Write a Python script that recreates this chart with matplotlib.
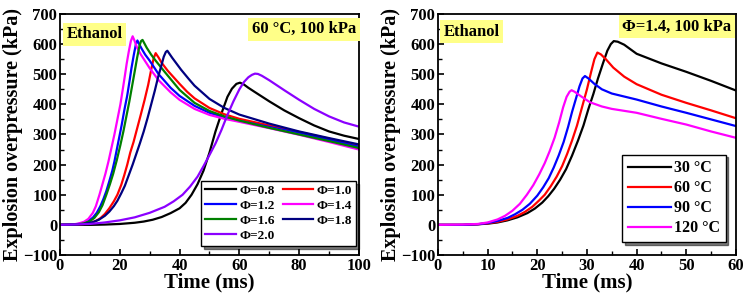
import numpy as np
import matplotlib
matplotlib.use("Agg")
import matplotlib.pyplot as plt
from matplotlib.ticker import MultipleLocator

plt.rcParams.update({
    "font.family": "serif",
    "font.serif": ["Liberation Serif", "DejaVu Serif"],
    "font.weight": "bold",
    "axes.labelweight": "bold",
    "axes.linewidth": 1.3,
    "xtick.direction": "in",
    "ytick.direction": "in",
    "mathtext.default": "bf",
})

# Panel (a): 60 °C, 100 kPa, various equivalence ratios
t_08 = [0, 10, 15, 20, 25, 28, 31, 34, 37, 40, 42, 44, 46, 48, 50, 52, 54, 56, 57.5, 59, 60.2, 61.5, 63, 65, 70, 75, 80, 85, 90, 95, 100]
p_08 = [0, 0, 1, 3, 7, 11, 17, 26, 39, 55, 73, 100, 135, 180, 240, 310, 370, 425, 452, 468, 472, 466, 455, 442, 410, 380, 354, 330, 310, 296, 285]

t_10 = [0, 5, 8, 10, 12, 13.5, 15, 16.5, 18, 19.2, 20.5, 21.5, 22.5, 23.5, 24.6, 25.8, 27, 28.3, 29.5, 30.5, 31.3, 32, 33, 34, 36, 38, 40, 42.5, 45, 50, 55, 60, 70, 80, 90, 100]
p_10 = [0, 1, 3, 6, 13, 22, 36, 55, 78, 100, 133, 165, 200, 240, 275, 320, 365, 415, 465, 515, 552, 570, 555, 538, 512, 490, 468, 442, 420, 388, 367, 352, 330, 308, 286, 263]

t_12 = [0, 4, 6, 8, 9.5, 11, 12.3, 13.5, 14.5, 15.5, 16.5, 17.5, 18.2, 19, 19.8, 20.6, 21.6, 22.5, 23.3, 23.9, 24.7, 25.4, 25.9, 26.5, 27.3, 28.5, 30, 33, 37, 40, 45, 50, 55, 60, 70, 80, 90, 100]
p_12 = [0, 1, 3, 7, 13, 24, 40, 62, 85, 112, 145, 180, 210, 250, 290, 330, 385, 430, 480, 520, 565, 600, 612, 600, 585, 565, 545, 500, 455, 428, 395, 372, 357, 345, 325, 305, 282, 259]

t_14 = [0, 4, 6, 8, 9.5, 11, 12, 13.2, 14.2, 15.2, 16.2, 17.2, 18.2, 19.2, 20.2, 21, 21.7, 22.3, 23, 23.7, 24.3, 24.9, 25.7, 27, 30, 33, 37, 40, 45, 50, 55, 60, 70, 80, 90, 100]
p_14 = [0, 1, 4, 10, 20, 40, 62, 100, 135, 170, 210, 255, 300, 350, 400, 450, 495, 535, 575, 610, 626, 612, 590, 566, 520, 480, 440, 415, 385, 365, 352, 342, 321, 299, 275, 250]

t_16 = [0, 4, 6, 8, 10, 11.5, 13, 14.2, 15.5, 16.7, 17.8, 19, 20.2, 21.2, 22.2, 23.2, 24.1, 25, 25.8, 26.6, 27.1, 27.6, 28.2, 29, 30.5, 32, 35, 40, 45, 50, 55, 60, 70, 80, 90, 100]
p_16 = [0, 1, 2, 5, 12, 23, 42, 65, 100, 135, 170, 215, 265, 310, 360, 410, 460, 510, 555, 595, 610, 614, 603, 588, 565, 545, 508, 448, 405, 378, 360, 346, 322, 300, 278, 255]

t_18 = [0, 5, 8, 11, 13, 15, 16.5, 18, 19.2, 20.5, 21.7, 23, 24.3, 25.5, 26.7, 28, 29.3, 30.5, 31.7, 32.8, 33.8, 34.7, 35.4, 35.9, 36.6, 37.5, 39, 40.5, 43, 45, 50, 55, 60, 70, 80, 90, 100]
p_18 = [0, 1, 3, 9, 17, 30, 44, 62, 80, 105, 130, 165, 200, 235, 270, 310, 355, 400, 445, 490, 525, 558, 574, 578, 568, 555, 535, 515, 485, 462, 418, 388, 366, 336, 310, 288, 267]

t_20 = [0, 10, 15, 20, 25, 30, 35, 38, 41, 43.5, 46, 48, 50, 52, 54, 56, 58, 60, 61.5, 63, 64.2, 65.2, 66.2, 67.5, 70, 75, 80, 85, 90, 95, 100]
p_20 = [0, 3, 8, 15, 25, 40, 60, 78, 100, 127, 160, 195, 232, 270, 315, 365, 410, 450, 474, 490, 498, 502, 501, 495, 480, 447, 415, 385, 360, 340, 326]

# Panel (b): Φ=1.4, 100 kPa, various initial temperatures
t_30 = [0, 5, 8, 10, 12, 14, 16, 18, 19.5, 21, 22.2, 23.4, 24.6, 25.8, 27, 28.2, 29.3, 30.3, 31.3, 32.2, 33.2, 34.1, 34.8, 35.4, 36.2, 37.5, 40, 45, 50, 55, 60]
p_30 = [0, 0, 2, 4, 8, 15, 25, 39, 54, 74, 95, 120, 150, 185, 230, 280, 330, 385, 435, 485, 535, 578, 600, 610, 608, 598, 568, 536, 508, 478, 446]

t_60 = [0, 5, 8, 10, 12, 14, 16, 17.5, 19, 20.3, 21.5, 22.7, 23.9, 25, 26, 27, 28, 29, 30, 30.8, 31.5, 32.1, 32.8, 33.8, 35.3, 37.5, 40, 45, 50, 55, 60]
p_60 = [0, 0, 2, 5, 10, 18, 30, 43, 60, 80, 100, 128, 160, 195, 235, 280, 330, 390, 450, 505, 550, 572, 566, 550, 522, 492, 467, 432, 405, 380, 354]

t_90 = [0, 5, 8, 10, 12, 14, 15.5, 17, 18.5, 20, 21.2, 22.3, 23.3, 24.3, 25.3, 26.2, 27, 27.8, 28.5, 29.1, 29.6, 30.3, 31.5, 33, 35, 40, 45, 50, 55, 60]
p_90 = [0, 0, 2, 6, 13, 23, 35, 50, 70, 97, 125, 155, 190, 230, 275, 325, 375, 420, 460, 486, 494, 486, 468, 450, 436, 416, 393, 372, 350, 328]

t_120 = [0, 5, 8, 10, 12, 13.5, 15, 16.5, 17.9, 19.2, 20.4, 21.5, 22.5, 23.5, 24.4, 25.2, 25.9, 26.5, 26.9, 27.5, 28.6, 30.6, 33, 35, 40, 45, 50, 55, 60]
p_120 = [0, 1, 3, 8, 18, 30, 47, 70, 100, 132, 168, 205, 245, 290, 340, 390, 425, 442, 447, 442, 429, 407, 393, 385, 372, 352, 333, 310, 289]

left_series = [
    (t_08, p_08, "black", "\u03a6=0.8"),
    (t_10, p_10, "#ff0000", "\u03a6=1.0"),
    (t_12, p_12, "#0000ff", "\u03a6=1.2"),
    (t_14, p_14, "#ff00ff", "\u03a6=1.4"),
    (t_16, p_16, "#008000", "\u03a6=1.6"),
    (t_18, p_18, "#000080", "\u03a6=1.8"),
    (t_20, p_20, "#8b00ff", "\u03a6=2.0"),
]
right_series = [
    (t_30, p_30, "black", "30 \u00b0C"),
    (t_60, p_60, "#ff0000", "60 \u00b0C"),
    (t_90, p_90, "#0000ff", "90 \u00b0C"),
    (t_120, p_120, "#ff00ff", "120 \u00b0C"),
]

fig = plt.figure(figsize=(7.47, 2.99), dpi=100)
ax1 = fig.add_axes([0.0803, 0.1472, 0.4003, 0.806])
ax2 = fig.add_axes([0.5863, 0.1472, 0.3989, 0.806])

box = dict(facecolor="#ffff88", edgecolor="none", pad=2.5)


def style(ax, xmax, xstep):
    ax.set_xlim(0, xmax)
    ax.set_ylim(-100, 700)
    ax.xaxis.set_major_locator(MultipleLocator(xstep))
    ax.xaxis.set_minor_locator(MultipleLocator(xstep / 2))
    ax.yaxis.set_major_locator(MultipleLocator(100))
    ax.yaxis.set_minor_locator(MultipleLocator(50))
    ax.tick_params(which="major", length=4.5, width=1.2, labelsize=12, pad=2)
    ax.tick_params(which="minor", length=3, width=1.0)
    for lab in ax.get_xticklabels() + ax.get_yticklabels():
        lab.set_fontweight("bold")
    ax.set_xlabel("Time (ms)", fontsize=15, labelpad=-1)
    ax.set_ylabel("Explosion overpressure (kPa)", fontsize=14.5, labelpad=0)


handles = {}
for t, p, c, lab in left_series:
    handles[lab], = ax1.plot(t, p, color=c, lw=1.6, label=lab)
style(ax1, 100, 20)
order = ["\u03a6=0.8", "\u03a6=1.2", "\u03a6=1.6", "\u03a6=2.0",
         "\u03a6=1.0", "\u03a6=1.4", "\u03a6=1.8"]
leg1 = ax1.legend([handles[k] for k in order], order, ncol=2,
                  loc="lower right", bbox_to_anchor=(0.99, 0.037),
                  borderaxespad=0, fancybox=False, shadow={"color": "black"},
                  framealpha=1, edgecolor="black", handlelength=2.3,
                  handletextpad=0.25, columnspacing=0.6, labelspacing=0.2,
                  borderpad=0.3, prop={"weight": "bold", "size": 9.6})
leg1.get_frame().set_linewidth(1.0)
ax1.text(0.022, 0.95, "Ethanol", transform=ax1.transAxes, fontsize=12,
         fontweight="bold", va="top", ha="left", bbox=box)
ax1.text(0.99, 0.97, "60 \u00b0C, 100 kPa", transform=ax1.transAxes,
         fontsize=12, fontweight="bold", va="top", ha="right", bbox=box)

for t, p, c, lab in right_series:
    ax2.plot(t, p, color=c, lw=1.6, label=lab)
style(ax2, 60, 10)
leg2 = ax2.legend(loc="lower right", bbox_to_anchor=(0.965, 0.055),
                  borderaxespad=0, fancybox=False, shadow={"color": "black"},
                  framealpha=1, edgecolor="black", handlelength=2.7,
                  handletextpad=0.2, labelspacing=0.25, borderpad=0.35,
                  prop={"weight": "bold", "size": 11.5})
leg2.get_frame().set_linewidth(1.0)
ax2.text(0.018, 0.96, "Ethanol", transform=ax2.transAxes, fontsize=12,
         fontweight="bold", va="top", ha="left", bbox=box)
ax2.text(0.985, 0.98, "\u03a6=1.4, 100 kPa", transform=ax2.transAxes,
         fontsize=12, fontweight="bold", va="top", ha="right", bbox=box)

fig.savefig("out.png", dpi=100)
